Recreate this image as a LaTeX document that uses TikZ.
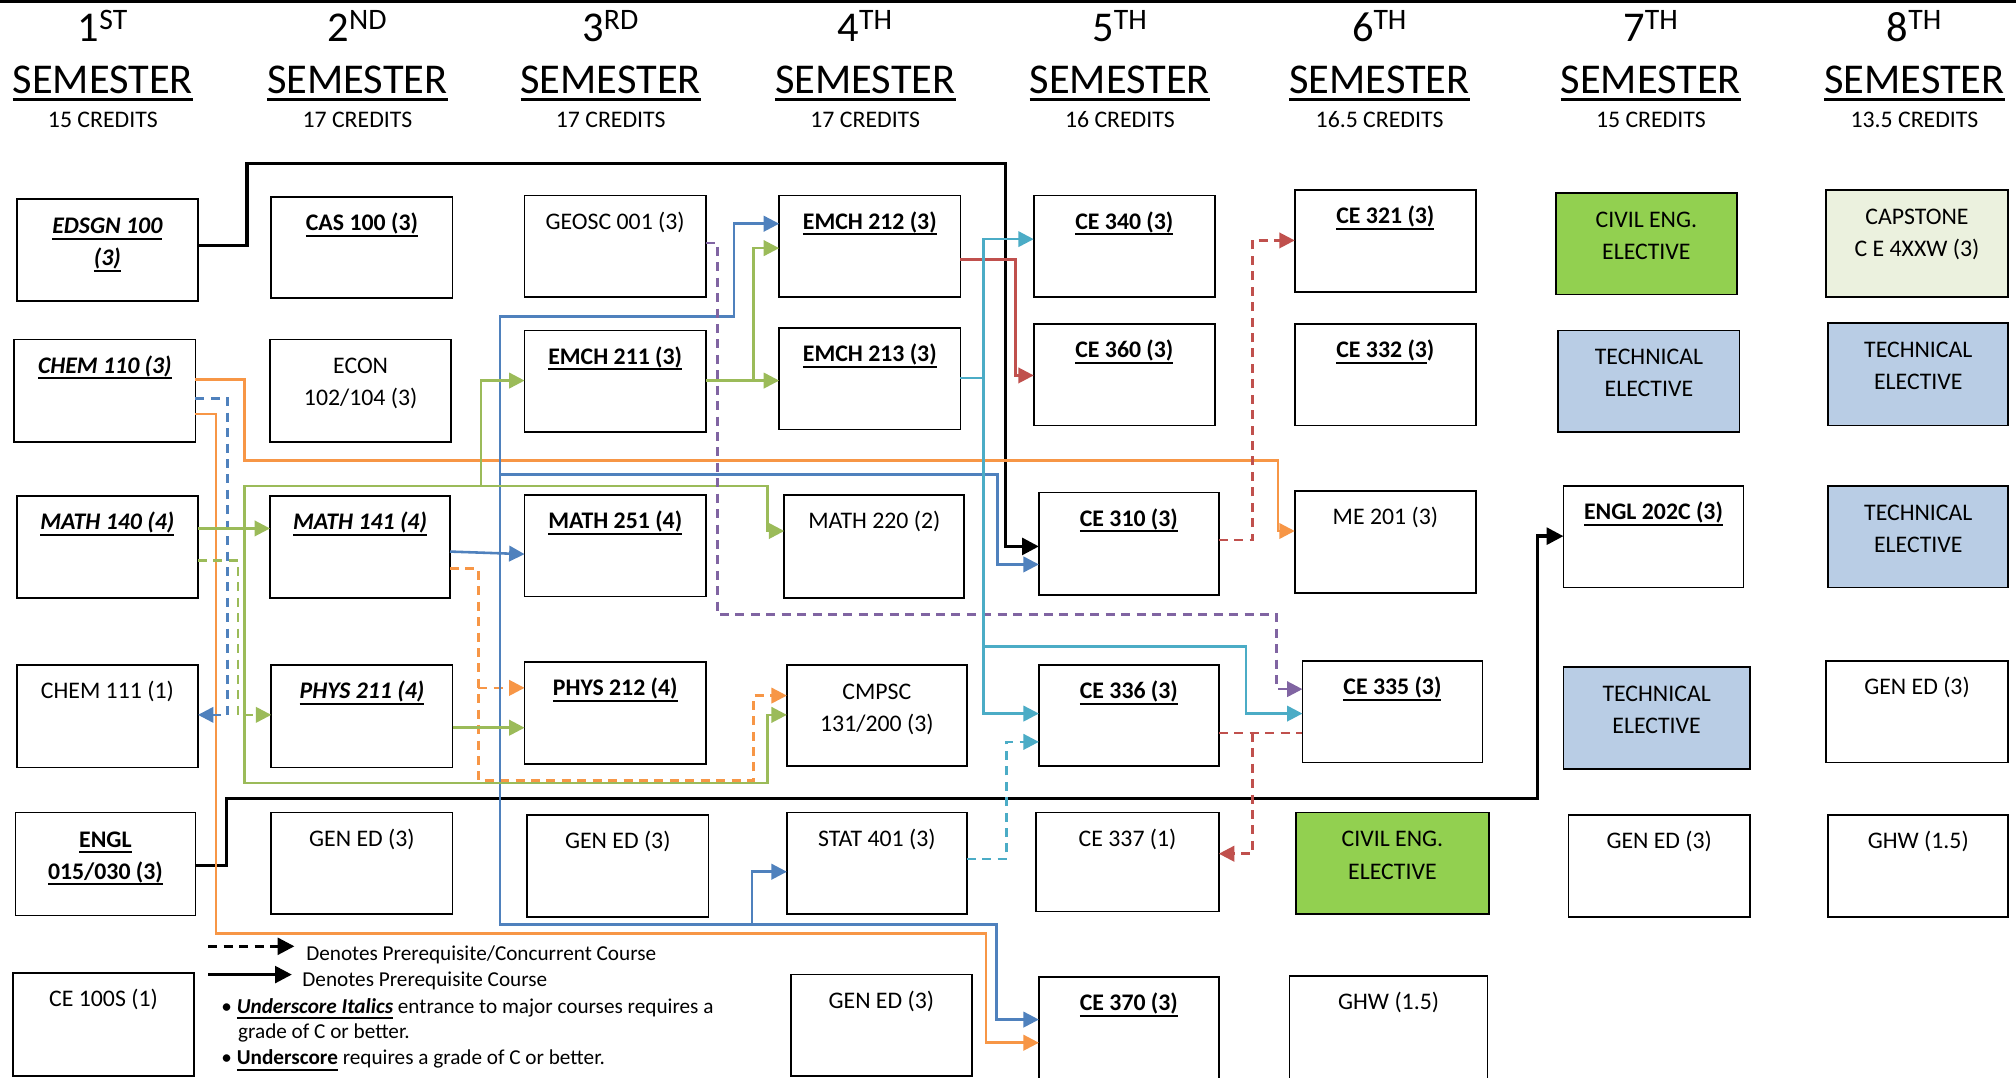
\documentclass[tikz,border=0pt]{standalone}
\usepackage{fontspec}
\setmainfont{Carlito}
\usetikzlibrary{arrows.meta,fit}
\definecolor{cor}{HTML}{F79646}
\definecolor{cbl}{HTML}{4F81BD}
\definecolor{cgr}{HTML}{9BBB59}
\definecolor{cpu}{HTML}{8064A2}
\definecolor{cre}{HTML}{C0504D}
\definecolor{ccy}{HTML}{4BACC6}
\definecolor{fgreen}{HTML}{92D050}
\definecolor{fcap}{HTML}{EBF1DE}
\definecolor{fblue}{HTML}{B9CDE5}
\newcommand\ul[1]{\leavevmode\setbox0\hbox{#1}\rlap{\vrule width\wd0 height -3.2pt depth 4.8pt}\box0}
\newcommand\ulh[1]{\leavevmode\setbox0\hbox{#1}\rlap{\vrule width\wd0 height -3pt depth 5.6pt}\box0}
\newcommand\bu[1]{\textbf{\ul{#1}}}
\newcommand\biu[1]{\textbf{\itshape\ul{#1}}}
\tikzset{
  box/.style={draw=black, line width=1.3pt, inner sep=0pt, outer sep=0pt},
  lbl/.style={font=\fontsize{18.5}{25}\selectfont, align=center, anchor=north, yshift=-8.5pt, inner sep=0pt, execute at begin node=\strut},
  two/.style={yshift=-6pt},
  hbig/.style={font=\fontsize{33}{36}\selectfont, anchor=base, inner sep=0pt},
  hcred/.style={font=\fontsize{18.5}{22}\selectfont, anchor=base, inner sep=0pt},
  leg/.style={font=\fontsize{16.5}{20}\selectfont, anchor=base west, inner sep=0pt},
  cn/.style={line width=2pt, -{Triangle[length=12pt,width=12pt]}},
  pl/.style={line width=2pt},
  dsh/.style={dash pattern=on 7pt off 5pt},
  blk/.style={line width=2.6pt, black, -{Triangle[length=13pt,width=13pt]}},
}
\newcommand\course[8][]{\node[box, fill=#7, fit={(#3,#4) (#5,#6)}, label={[lbl,#1]north:{#8}}] (#2) {};}
\begin{document}
\begin{tikzpicture}[x=1pt,y=-1pt]
\fill[white] (0,0) rectangle (1568,838);
\useasboundingbox (0,0) rectangle (1568,838);
\draw[line width=2.6pt] (0,1.3) -- (1568,1.3);
% headers
\foreach \cx/\num/\sup/\cr [count=\i] in {80/1/ST/15, 278/2/ND/17, 475/3/RD/17, 673/4/TH/17, 871/5/TH/16, 1073/6/TH/16.5, 1284/7/TH/15, 1489/8/TH/13.5}{
  \node[hbig] (hn\i) at (\cx,32) {\num\textsuperscript{\sup}};
  \node[hbig] (hs\i) at (\cx,73) {\ulh{SEMESTER}};
  \node[hcred] (hc\i) at (\cx,99) {\cr\ CREDITS};
}
% row 1
\course[two]{edsgn}{13}{155}{154}{234}{white}{\biu{EDSGN 100}\\\biu{(3)}}
\course{cas}{211}{153}{352}{232}{white}{\bu{CAS 100 (3)}}
\course{geosc}{408}{152}{549}{231}{white}{GEOSC 001 (3)}
\course{e212}{606}{152}{747}{231}{white}{\bu{EMCH 212 (3)}}
\course{ce340}{804}{152}{945}{231}{white}{\bu{CE 340 (3)}}
\course{ce321}{1007}{148}{1148}{227}{white}{\bu{CE 321 (3)}}
\course[two]{civA}{1210}{150}{1351}{229}{fgreen}{CIVIL ENG.\\ELECTIVE}
\course[two]{cap}{1420}{148}{1562}{231}{fcap}{CAPSTONE\\C E 4XXW (3)}
% row 2
\course{chem110}{11}{264}{152}{344}{white}{\biu{CHEM 110 (3)}}
\course[two]{econ}{210}{264}{351}{344}{white}{ECON\\102/104 (3)}
\course{e211}{408}{257}{549}{336}{white}{\bu{EMCH 211 (3)}}
\course{e213}{606}{255}{747}{334}{white}{\bu{EMCH 213 (3)}}
\course{ce360}{804}{252}{945}{331}{white}{\bu{CE 360 (3)}}
\course{ce332}{1007}{252}{1148}{331}{white}{\textbf{\ul{CE 332 (3})}}
\course[two]{techA}{1212}{257}{1353}{336}{fblue}{TECHNICAL\\ELECTIVE}
\course[two]{techB}{1422}{251}{1562}{331}{fblue}{TECHNICAL\\ELECTIVE}
% row 3
\course{m140}{13}{386}{154}{465}{white}{\biu{MATH 140 (4)}}
\course{m141}{210}{386}{350}{465}{white}{\biu{MATH 141 (4)}}
\course{m251}{408}{385}{549}{464}{white}{\bu{MATH 251 (4)}}
\course{m220}{610}{385}{750}{465}{white}{MATH 220 (2)}
\course{ce310}{808}{383}{948}{463}{white}{\bu{CE 310 (3)}}
\course{me201}{1007}{382}{1148}{461}{white}{ME 201 (3)}
\course{engl202}{1216}{378}{1356}{457}{white}{\bu{ENGL 202C (3)}}
\course[two]{techC}{1422}{378}{1562}{457}{fblue}{TECHNICAL\\ELECTIVE}
% row 4
\course{chem111}{13}{517}{154}{597}{white}{CHEM 111 (1)}
\course{p211}{211}{517}{352}{597}{white}{\biu{PHYS 211 (4)}}
\course{p212}{408}{515}{549}{594}{white}{\bu{PHYS 212 (4)}}
\course[two]{cmpsc}{612}{517}{752}{596}{white}{CMPSC\\131/200 (3)}
\course{ce336}{808}{517}{948}{596}{white}{\bu{CE 336 (3)}}
\course{ce335}{1013}{514}{1153}{593}{white}{\bu{CE 335 (3)}}
\course[two]{techD}{1216}{519}{1361}{598}{fblue}{TECHNICAL\\ELECTIVE}
\course{ge8a}{1420}{514}{1562}{593}{white}{GEN ED (3)}
% row 5
\course[two]{engl015}{12}{632}{152}{712}{white}{\bu{ENGL}\\\bu{015/030 (3)}}
\course{ge2}{211}{632}{352}{711}{white}{GEN ED (3)}
\course{ge3}{410}{634}{551}{713}{white}{GEN ED (3)}
\course{stat}{612}{632}{752}{711}{white}{STAT 401 (3)}
\course{ce337}{806}{632}{948}{709}{white}{CE 337 (1)}
\course[two]{civB}{1008}{632}{1158}{711}{fgreen}{CIVIL ENG.\\ELECTIVE}
\course{ge7}{1220}{634}{1361}{713}{white}{GEN ED (3)}
\course{ghw8}{1422}{634}{1562}{713}{white}{GHW (1.5)}
% row 6
\course{ce100}{10}{757}{151}{837}{white}{CE 100S (1)}
\course{ge4b}{615}{758}{756}{837}{white}{GEN ED (3)}
\course{ce370}{808}{760}{948}{841}{white}{\bu{CE 370 (3)}}
\course{ghw6}{1003}{759}{1157}{841}{white}{GHW (1.5)}
% junctions
\coordinate (gj) at (190,411);
\coordinate (bj) at (389,430);
\coordinate (cj) at (765,294);
\coordinate (oj) at (372,535);
\coordinate (rj) at (974,570);
% black
\draw[blk] (edsgn.east |- 0,191) -| (192,127) -| (782,425) -- (ce310.west |- 0,425);
\draw[blk] (engl015.east |- 0,673) -| (176,621) -| (1196,417) -- (engl202.west |- 0,417);
% orange
\draw[cn, cor] (chem110.east |- 0,295) -| (190,358) -| (994,413) -- (me201.west |- 0,413);
\draw[cn, cor] (chem110.east |- 0,322) -| (168,726) -| (767,811) -- (ce370.west |- 0,811);
\draw[cn, cor, dsh] (m141.east |- 0,442) -| (372,607) -| (586,541) -- (cmpsc.west |- 0,541);
\draw[cn, cor, dsh] (oj) -- (p212.west |- oj);
% blue
\draw[cn, cbl, dsh] (chem110.east |- 0,310) -| (177,556) -- (chem111.east |- 0,556);
\draw[cn, cbl] (m141.east |- 0,429) -- (m251.west |- 0,431);
\draw[cn, cbl] (bj) |- (571,246) |- (e212.west |- 0,174);
\draw[cn, cbl] (bj) |- (776,369) |- (ce310.west |- 0,439);
\draw[cn, cbl] (bj) |- (585,719) |- (stat.west |- 0,678);
\draw[cn, cbl] (585,719) -| (775,793) -- (ce370.west |- 0,793);
% green
\draw[cn, cgr] (m140.east |- gj) -- (m141.west |- gj);
\draw[cn, cgr, dsh] (m140.east |- 0,436) -| (185,556) -- (p211.west |- 0,556);
\draw[cn, cgr] (gj) -- (190,378) -| (597,413) -- (m220.west |- 0,413);
\draw[cn, cgr] (gj) |- (597,609) |- (cmpsc.west |- 0,556);
\draw[cn, cgr] (374,378) |- (e211.west |- 0,296);
\draw[cn, cgr] (e211.east |- 0,296) -- (e213.west |- 0,296);
\draw[cn, cgr] (586,296) |- (e212.west |- 0,193);
\draw[cn, cgr] (p211.east |- 0,566) -- (p212.west |- 0,566);
% purple
\draw[cn, cpu, dsh] (geosc.east |- 0,189) -| (558,478) -| (993,536) -- (ce335.west |- 0,536);
% red
\draw[cn, cre] (e212.east |- 0,202) -| (790,292) -- (ce360.west |- 0,292);
\draw[cn, cre, dsh] (ce310.east |- 0,420) -| (974,187) -- (ce321.west |- 0,187);
\draw[pl, cre, dsh] (ce336.east |- rj) -- (ce335.west |- rj);
\draw[cn, cre, dsh] (rj) |- (ce337.east |- 0,664);
% cyan
\draw[cn, ccy] (e213.east |- cj) -| (765,186) -- (ce340.west |- 0,186);
\draw[cn, ccy] (cj) |- (ce336.west |- 0,555);
\draw[cn, ccy] (765,503) -| (969,555) -- (ce335.west |- 0,555);
\draw[cn, ccy, dsh] (stat.east |- 0,668) -| (783,577) -- (ce336.west |- 0,577);
% legend
\coordinate (lgA1) at (162,736); \coordinate (lgA2) at (229,736);
\coordinate (lgB1) at (162,758); \coordinate (lgB2) at (227,758);
\draw[blk, line width=2.3pt, dash pattern=on 7pt off 5pt] (lgA1) -- (lgA2);
\draw[blk, line width=2.3pt] (lgB1) -- (lgB2);
\node[leg] (lt1) at (238,747) {Denotes Prerequisite/Concurrent Course};
\node[leg] (lt2) at (235,767) {Denotes Prerequisite Course};
\node[leg] (lt3) at (172,788) {• \biu{Underscore Italics} entrance to major courses requires a};
\node[leg] (lt4) at (185,808) {grade of C or better.};
\node[leg] (lt5) at (172,828) {• \bu{Underscore} requires a grade of C or better.};
\end{tikzpicture}
\end{document}
